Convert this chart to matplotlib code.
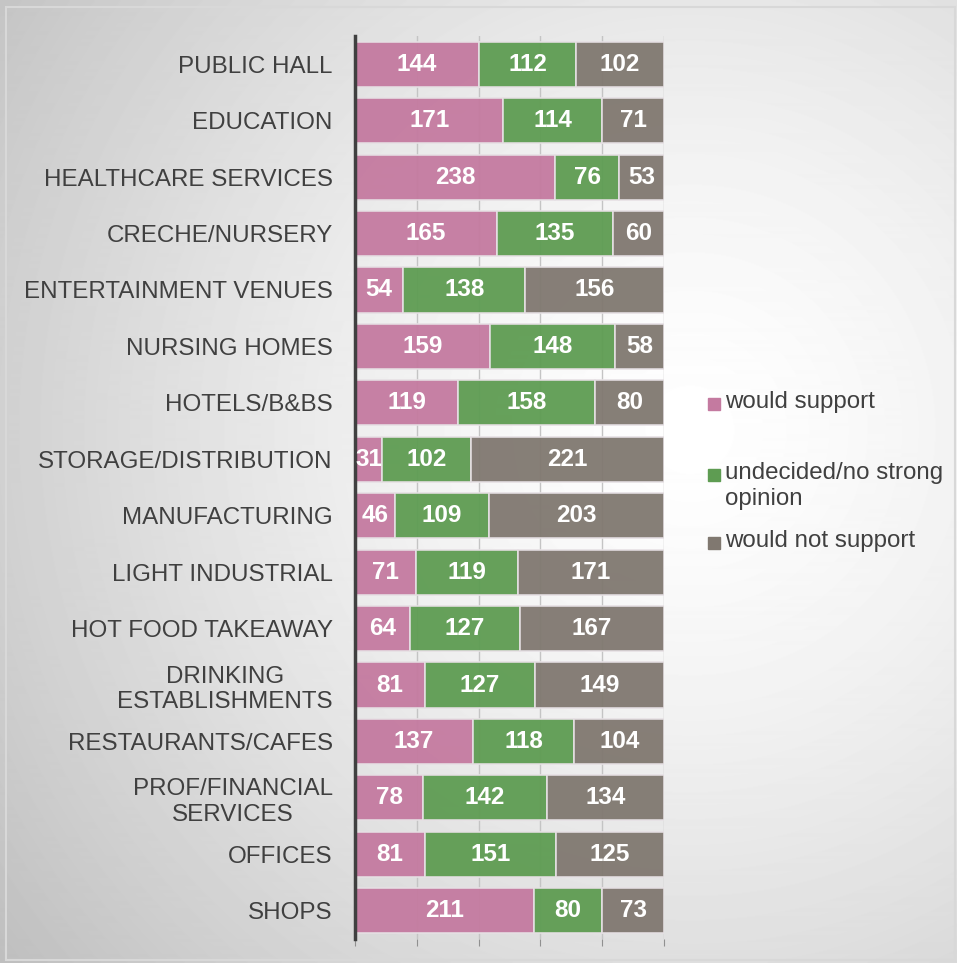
import numpy as np
import matplotlib.pyplot as plt
from matplotlib.patches import Rectangle

categories = ["PUBLIC HALL", "EDUCATION", "HEALTHCARE SERVICES", "CRECHE/NURSERY",
              "ENTERTAINMENT VENUES", "NURSING HOMES", "HOTELS/B&BS",
              "STORAGE/DISTRIBUTION", "MANUFACTURING", "LIGHT INDUSTRIAL",
              "HOT FOOD TAKEAWAY", "DRINKING\nESTABLISHMENTS", "RESTAURANTS/CAFES",
              "PROF/FINANCIAL\nSERVICES", "OFFICES", "SHOPS"]
support = [144, 171, 238, 165, 54, 159, 119, 31, 46, 71, 64, 81, 137, 78, 81, 211]
undecided = [112, 114, 76, 135, 138, 148, 158, 102, 109, 119, 127, 127, 118, 142, 151, 80]
not_support = [102, 71, 53, 60, 156, 58, 80, 221, 203, 171, 167, 149, 104, 134, 125, 73]
series_names = ["would support", "undecided/no strong\nopinion", "would not support"]
colors = ["#c47aa0", "#5e9c52", "#807870"]

plt.rcParams['font.family'] = ['Liberation Sans', 'DejaVu Sans']

W, H = 957, 963
fig = plt.figure(figsize=(W / 100, H / 100), dpi=100)

# radial grey background, whitest near the legend
bg = fig.add_axes([0, 0, 1, 1], zorder=-10)
yy, xx = np.mgrid[0:H, 0:W]
r = np.hypot(xx - 690, yy - 430) / 813.0
shade = 1 - 0.23 * np.clip(r, 0, 1.2) ** 1.4
bg.imshow(shade, cmap='gray', vmin=0, vmax=1, aspect='auto', extent=[0, 1, 0, 1])
bg.add_patch(Rectangle((0.006, 0.003), 0.992, 0.99, fill=False, edgecolor='#d8d8d8', lw=1.5))
bg.set_xlim(0, 1)
bg.set_ylim(0, 1)
bg.axis('off')

ax = fig.add_axes([355 / W, 1 - 939 / H, (664 - 355) / W, (939 - 36) / H])
ax.patch.set_alpha(0)

tot = np.array(support) + np.array(undecided) + np.array(not_support)
y = np.arange(len(categories))
left = np.zeros(len(categories))
for vals, col in zip([support, undecided, not_support], colors):
    frac = np.array(vals) / tot
    ax.barh(y, frac, left=left, height=0.8, color=col, alpha=0.95,
            edgecolor='#e6e0e4', linewidth=1.2)
    for yi, l, f, v in zip(y, left, frac, vals):
        ax.text(l + f / 2, yi, str(v), ha='center', va='center', color='white',
                fontsize=17.5, fontweight='bold')
    left += frac

ax.set_xlim(0, 1)
ax.set_ylim(len(categories) - 0.5, -0.5)
ax.set_xticks(np.arange(0, 1.01, 0.2))
ax.set_xticklabels([])
ax.grid(axis='x', color='#c4c4c4', linewidth=1)
ax.set_axisbelow(True)
ax.tick_params(axis='x', length=5, color='#909090', direction='out')
ax.set_yticks(y, categories)
ax.tick_params(axis='y', length=0, pad=16, labelsize=17.4, labelcolor='#404040')
for lbl in ax.get_yticklabels():
    lbl.set_multialignment('center')
for s in ['top', 'right', 'bottom']:
    ax.spines[s].set_visible(False)
ax.spines['left'].set_color('#404040')
ax.spines['left'].set_linewidth(2.5)

# legend
leg_y = [404, 475, 543]
for name, col, ly in zip(series_names, colors, leg_y):
    fig.patches.append(Rectangle((708 / W, 1 - (ly + 6) / H), 12 / W, 12 / H,
                                 color=col, transform=fig.transFigure))
    fig.text(725 / W, 1 - (ly - 13) / H, name, ha='left', va='top',
             fontsize=17.4, color='#404040', linespacing=1.25)

fig.savefig('out.png', dpi=100)
